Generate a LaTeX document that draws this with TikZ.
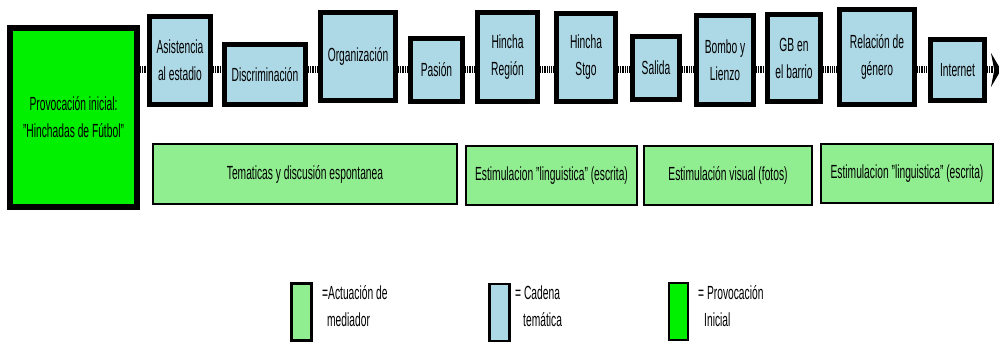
\documentclass[tikz,border=0pt]{standalone}
\usepackage{fontspec}
\setmainfont{Liberation Sans}[FakeStretch=0.54]
\usepackage{tikz}
\usetikzlibrary{positioning,shapes,arrows.meta}
\definecolor{temablue}{RGB}{173,216,230}
\definecolor{mediagreen}{RGB}{144,238,144}
\definecolor{provgreen}{RGB}{0,240,0}
\tikzstyle{tema} = [rectangle, draw, line width=5pt, fill=temablue, align=center, inner sep=0pt]
\tikzstyle{prov} = [rectangle, draw, line width=6pt, fill=provgreen, align=center, inner sep=0pt]
\tikzstyle{media} = [rectangle, draw, line width=2pt, fill=mediagreen, align=center, inner sep=0pt]
\tikzstyle{legbox} = [rectangle, draw, line width=2.5pt, minimum width=20pt, minimum height=57pt, inner sep=0pt]
\tikzstyle{legtext} = [anchor=west, align=left, inner sep=0pt]
\tikzstyle{link} = [draw, line width=7pt, dash pattern=on 1.2pt off 1pt]
\tikzstyle{linkend} = [link, -{Stealth[length=10pt, width=34pt]}]

\begin{document}
\begin{tikzpicture}[x=1pt, y=-1pt, every node/.style={font=\fontsize{19}{27}\selectfont}]
        \useasboundingbox (0, 0) rectangle (999, 344);
        % Place nodes
        \node at (73.5, 117.5) [prov, minimum width=127pt, minimum height=179pt] (prov) {Provocación inicial:\\"Hinchadas de Fútbol"};
        \node at (180, 60.5) [tema, minimum width=61pt, minimum height=88pt] (asis) {Asistencia\\al estadio};
        \node at (265, 74.5) [tema, minimum width=81pt, minimum height=60pt] (discr) {Discriminación};
        \node at (358, 56.5) [tema, minimum width=75pt, minimum height=88pt] (organ) {Organización};
        \node at (436.5, 70) [tema, minimum width=52pt, minimum height=63pt] (pasion) {Pasión};
        \node at (507.5, 57) [tema, minimum width=60pt, minimum height=89pt] (hreg) {Hincha\\Región};
        \node at (586, 57.5) [tema, minimum width=59pt, minimum height=88pt] (hstgo) {Hincha\\Stgo};
        \node at (656, 68) [tema, minimum width=47pt, minimum height=63pt] (salida) {Salida};
        \node at (725, 60) [tema, minimum width=57pt, minimum height=89pt] (bombo) {Bombo y\\Lienzo};
        \node at (794, 58) [tema, minimum width=53pt, minimum height=87pt] (barrio) {GB en\\el barrio};
        \node at (877, 57) [tema, minimum width=75pt, minimum height=95pt] (genero) {Relación de\\género};
        \node at (957.5, 70) [tema, minimum width=54pt, minimum height=61pt] (inet) {Internet};
        \node at (305, 174) [media, minimum width=304pt, minimum height=60pt] (tematicas) {Tematicas y discusión espontanea};
        \node at (551.5, 175.5) [media, minimum width=171pt, minimum height=59pt] (escrita1) {Estimulacion "linguistica" (escrita)};
        \node at (728, 175.5) [media, minimum width=168pt, minimum height=59pt] (fotos) {Estimulación visual (fotos)};
        \node at (907, 173.5) [media, minimum width=172pt, minimum height=59pt] (escrita2) {Estimulacion "linguistica" (escrita)};
        % Legend
        \node at (301.5, 312) [legbox, fill=mediagreen] (legmedia) {};
        \node at (499.5, 312.5) [legbox, fill=temablue] (legtema) {};
        \node at (678.5, 311.5) [legbox, fill=provgreen, minimum width=19pt] (legprov) {};
        \node at (322, 306.5) [legtext] (txtmedia) {=Actuación de\\\hspace*{5pt}mediador};
        \node at (515, 306.5) [legtext] (txttema) {= Cadena\\\hspace*{8pt}temática};
        \node at (698, 306.5) [legtext] (txtprov) {= Provocación\\\hspace*{6pt}Inicial};
        \coordinate (chain) at (0, 70);
        \coordinate (end) at (1001, 70);

        % Draw edges
        \path [link] (prov.east |- chain) -- (asis.west |- chain);
        \path [link] (asis.east |- chain) -- (discr.west |- chain);
        \path [link] (discr.east |- chain) -- (organ.west |- chain);
        \path [link] (organ.east |- chain) -- (pasion.west |- chain);
        \path [link] (pasion.east |- chain) -- (hreg.west |- chain);
        \path [link] (hreg.east |- chain) -- (hstgo.west |- chain);
        \path [link] (hstgo.east |- chain) -- (salida.west |- chain);
        \path [link] (salida.east |- chain) -- (bombo.west |- chain);
        \path [link] (bombo.east |- chain) -- (barrio.west |- chain);
        \path [link] (barrio.east |- chain) -- (genero.west |- chain);
        \path [link] (genero.east |- chain) -- (inet.west |- chain);
        \path [linkend] (inet.east |- chain) -- (end);
    \end{tikzpicture}
\end{document}
